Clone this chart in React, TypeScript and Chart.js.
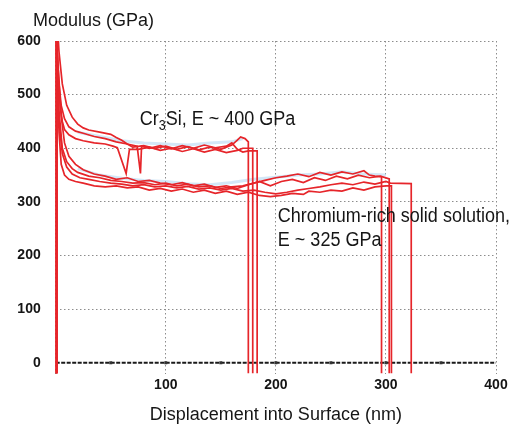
import { useEffect, useRef } from 'react';
import { Chart, registerables } from 'chart.js';
Chart.register(...registerables);

// Tick values
const xTickValues = [0, 100, 200, 300, 400];
const yTickValues = [0, 100, 200, 300, 400, 500, 600];

// Cr3Si indents (~400 GPa)
const dispA = [0,0,1,3,6,10,15,20,25,30,40,50,55,60,65,70,80,90,100,110,120,130,140,150,160,165,168,172,175,175];
const modA  = [-20,700,650,580,520,480,458,445,438,434,430,426,420,415,408,402,405,400,404,398,403,397,402,398,406,415,421,418,412,-20];
const dispB = [0,0,1,2,4,6,8,12,18,25,35,45,52,56,64,67,75,85,95,105,115,125,135,145,155,165,170,179,179];
const modB  = [-20,660,600,540,480,450,435,425,418,414,410,408,404,401,353,398,398,402,396,400,394,399,393,398,392,396,400,400,-20];
const dispC = [0,0,1,3,5,8,12,18,25,35,45,55,65,74,77,78,85,95,105,115,125,135,145,155,160,165,170,175,183,183];
const modC  = [-20,640,590,520,480,455,440,432,428,422,418,412,408,404,353,404,400,405,399,405,400,406,401,404,410,398,393,395,395,-20];

// Chromium-rich solid solution indents (~325 GPa)
const dispD = [0,0,1,3,6,10,15,20,30,40,50,60,70,80,90,100,110,120,130,140,150,160,170,180,190,200,210,220,230,240,250,260,270,280,285,290,296,296];
const modD  = [-20,680,600,470,400,375,362,355,348,345,340,338,335,336,332,335,330,333,328,330,325,328,330,335,340,345,348,352,347,355,350,356,352,358,350,348,347,-20];
const dispE = [0,0,2,5,8,12,18,25,35,45,55,65,75,85,95,105,115,125,135,145,155,165,175,185,195,205,215,225,235,245,255,265,275,285,295,303,303];
const modE  = [-20,650,560,460,410,385,370,360,352,348,342,345,338,340,335,332,336,330,333,327,330,325,332,338,330,338,342,336,345,340,348,343,350,345,348,343,-20];
const dispF = [0,0,1,3,5,8,12,18,25,35,45,55,65,75,85,95,105,115,125,135,145,155,165,175,185,195,205,215,225,230,240,250,260,270,280,290,300,305,305];
const modF  = [-20,640,580,430,370,350,342,338,335,330,328,330,326,328,322,325,320,324,318,322,316,320,314,318,312,310,312,316,314,320,318,322,320,326,322,328,330,330,-20];
const dispG = [0,0,1,3,6,10,15,22,30,40,50,60,70,80,90,100,110,120,130,140,150,160,170,180,190,200,210,220,230,240,250,260,270,280,290,300,304,323,323];
const modG  = [-20,620,560,450,390,365,352,345,342,338,335,333,330,332,328,330,326,329,324,326,322,325,320,322,318,315,318,322,325,328,332,335,332,337,333,338,335,334,-20];

// faint background traces
const dispBlueUpper = [20,40,60,80,100,120,140,160,170];
const modBlueUpper  = [430,422,414,410,408,406,410,412,418];
const dispBlueLower = [20,40,60,80,100,120,140,160,180,200,220,240,260,280,300];
const modBlueLower  = [362,350,344,340,338,334,332,336,342,346,350,352,356,352,350];

const RED = '#e6252a';
const BLUE = 'rgba(175,212,240,0.55)';

const pts = (xs: number[], ys: number[]) => xs.map((x, i) => ({ x, y: ys[i] }));

const redSeries = [
  [dispA, modA], [dispB, modB], [dispC, modC],
  [dispD, modD], [dispE, modE], [dispF, modF], [dispG, modG],
];

const FONT = '"Liberation Sans", Arial, Helvetica, sans-serif';

const decorPlugin = {
  id: 'decor',
  beforeDatasetsDraw(chart: any) {
    const { ctx, scales } = chart;
    const xs = scales.x, ys = scales.y;
    const y0 = ys.getPixelForValue(0);
    ctx.save();
    ctx.strokeStyle = '#1a1a1a';
    ctx.lineWidth = 2;
    ctx.setLineDash([4, 1.5]);
    ctx.beginPath();
    ctx.moveTo(xs.getPixelForValue(0), y0);
    ctx.lineTo(xs.getPixelForValue(400), y0);
    ctx.stroke();
    ctx.setLineDash([]);
    ctx.fillStyle = '#333';
    for (let v = 50; v < 400; v += 50) {
      const px = xs.getPixelForValue(v);
      ctx.fillRect(px - 1.5, y0 - 1.5, 3, 3);
    }
    ctx.restore();
  },
  afterDraw(chart: any) {
    const { ctx, scales, chartArea } = chart;
    const xs = scales.x, ys = scales.y;
    ctx.save();
    ctx.fillStyle = '#161616';
    ctx.textBaseline = 'alphabetic';
    ctx.textAlign = 'left';
    // axis titles
    ctx.font = `18px ${FONT}`;
    ctx.fillText('Modulus (GPa)', 33, 26);
    ctx.textAlign = 'center';
    ctx.fillText('Displacement into Surface (nm)', (chartArea.left + chartArea.right) / 2, 420);
    ctx.textAlign = 'left';

    const sx = 0.9;
    const draw = (text: string, x: number, y: number, size: number) => {
      ctx.font = `${size}px ${FONT}`;
      ctx.save();
      ctx.translate(x, y);
      ctx.scale(sx, 1);
      ctx.fillText(text, 0, 0);
      ctx.restore();
      return ctx.measureText(text).width * sx;
    };
    // Cr3Si annotation
    let x = xs.getPixelForValue(0) + 84;
    const yb = ys.getPixelForValue(400) - 23;
    x += draw('Cr', x, yb, 20);
    x += draw('3', x, yb + 5, 14);
    draw('Si, E ~ 400 GPa', x, yb, 20);
    // Chromium-rich annotation
    const x2 = xs.getPixelForValue(200) + 2;
    draw('Chromium-rich solid solution,', x2, ys.getPixelForValue(300) + 20, 20);
    draw('E ~ 325 GPa', x2, ys.getPixelForValue(300) + 44, 20);
    ctx.restore();
  },
};

export default function App() {
  const ref = useRef<HTMLCanvasElement>(null);
  useEffect(() => {
    const datasets: any[] = [];
    redSeries.forEach(([xs, ys]) => {
      datasets.push({
        data: pts(xs, ys),
        borderColor: RED,
        borderWidth: 1.7,
        pointRadius: 0,
        tension: 0,
        fill: false,
        order: 1,
        segment: {
          borderWidth: (c: any) => (c.p0DataIndex === 0 ? 3.5 : 1.7),
        },
      });
    });
    datasets.push({ data: pts(dispBlueUpper, modBlueUpper), borderColor: BLUE, borderWidth: 3, pointRadius: 0, order: 5 });
    datasets.push({ data: pts(dispBlueLower, modBlueLower), borderColor: BLUE, borderWidth: 3, pointRadius: 0, order: 5 });

    const chart = new Chart(ref.current!, {
      type: 'line',
      data: { datasets },
      plugins: [decorPlugin],
      options: {
        responsive: false,
        animation: false,
        layout: { padding: { top: 41, right: 23, left: 0, bottom: 0 } },
        plugins: { legend: { display: false }, tooltip: { enabled: false }, title: { display: false } },
        scales: {
          x: {
            type: 'linear',
            min: 0,
            max: 400,
            afterBuildTicks: (s: any) => { s.ticks = xTickValues.map((v) => ({ value: v })); },
            afterFit: (s: any) => { s.height = 53.5; },
            grid: { color: '#8c8c8c', lineWidth: 1, drawTicks: false },
            border: { display: false, dash: [1.5, 2.5] },
            ticks: {
              padding: 3,
              color: '#151515',
              font: { family: FONT, size: 14, weight: 'bold' },
              callback: (v: any) => (v === 0 ? '' : String(v)),
            },
          },
          y: {
            type: 'linear',
            min: -20,
            max: 600,
            afterBuildTicks: (s: any) => { s.ticks = yTickValues.map((v) => ({ value: v })); },
            afterFit: (s: any) => { s.width = 55.7; },
            grid: {
              color: (c: any) => (c.tick && c.tick.value === 0 ? 'rgba(0,0,0,0)' : '#8c8c8c'),
              lineWidth: 1,
              drawTicks: false,
            },
            border: { display: false, dash: [1.5, 2.5] },
            ticks: {
              padding: 15,
              color: '#151515',
              font: { family: FONT, size: 14, weight: 'bold' },
            },
          },
        },
      } as any,
    });
    return () => chart.destroy();
  }, []);
  return (
    <div style={{ position: 'fixed', left: 0, top: 0, width: 519, height: 427, background: '#fff' }}>
      <canvas ref={ref} width={519} height={427} style={{ width: 519, height: 427, display: 'block' }} />
    </div>
  );
}
